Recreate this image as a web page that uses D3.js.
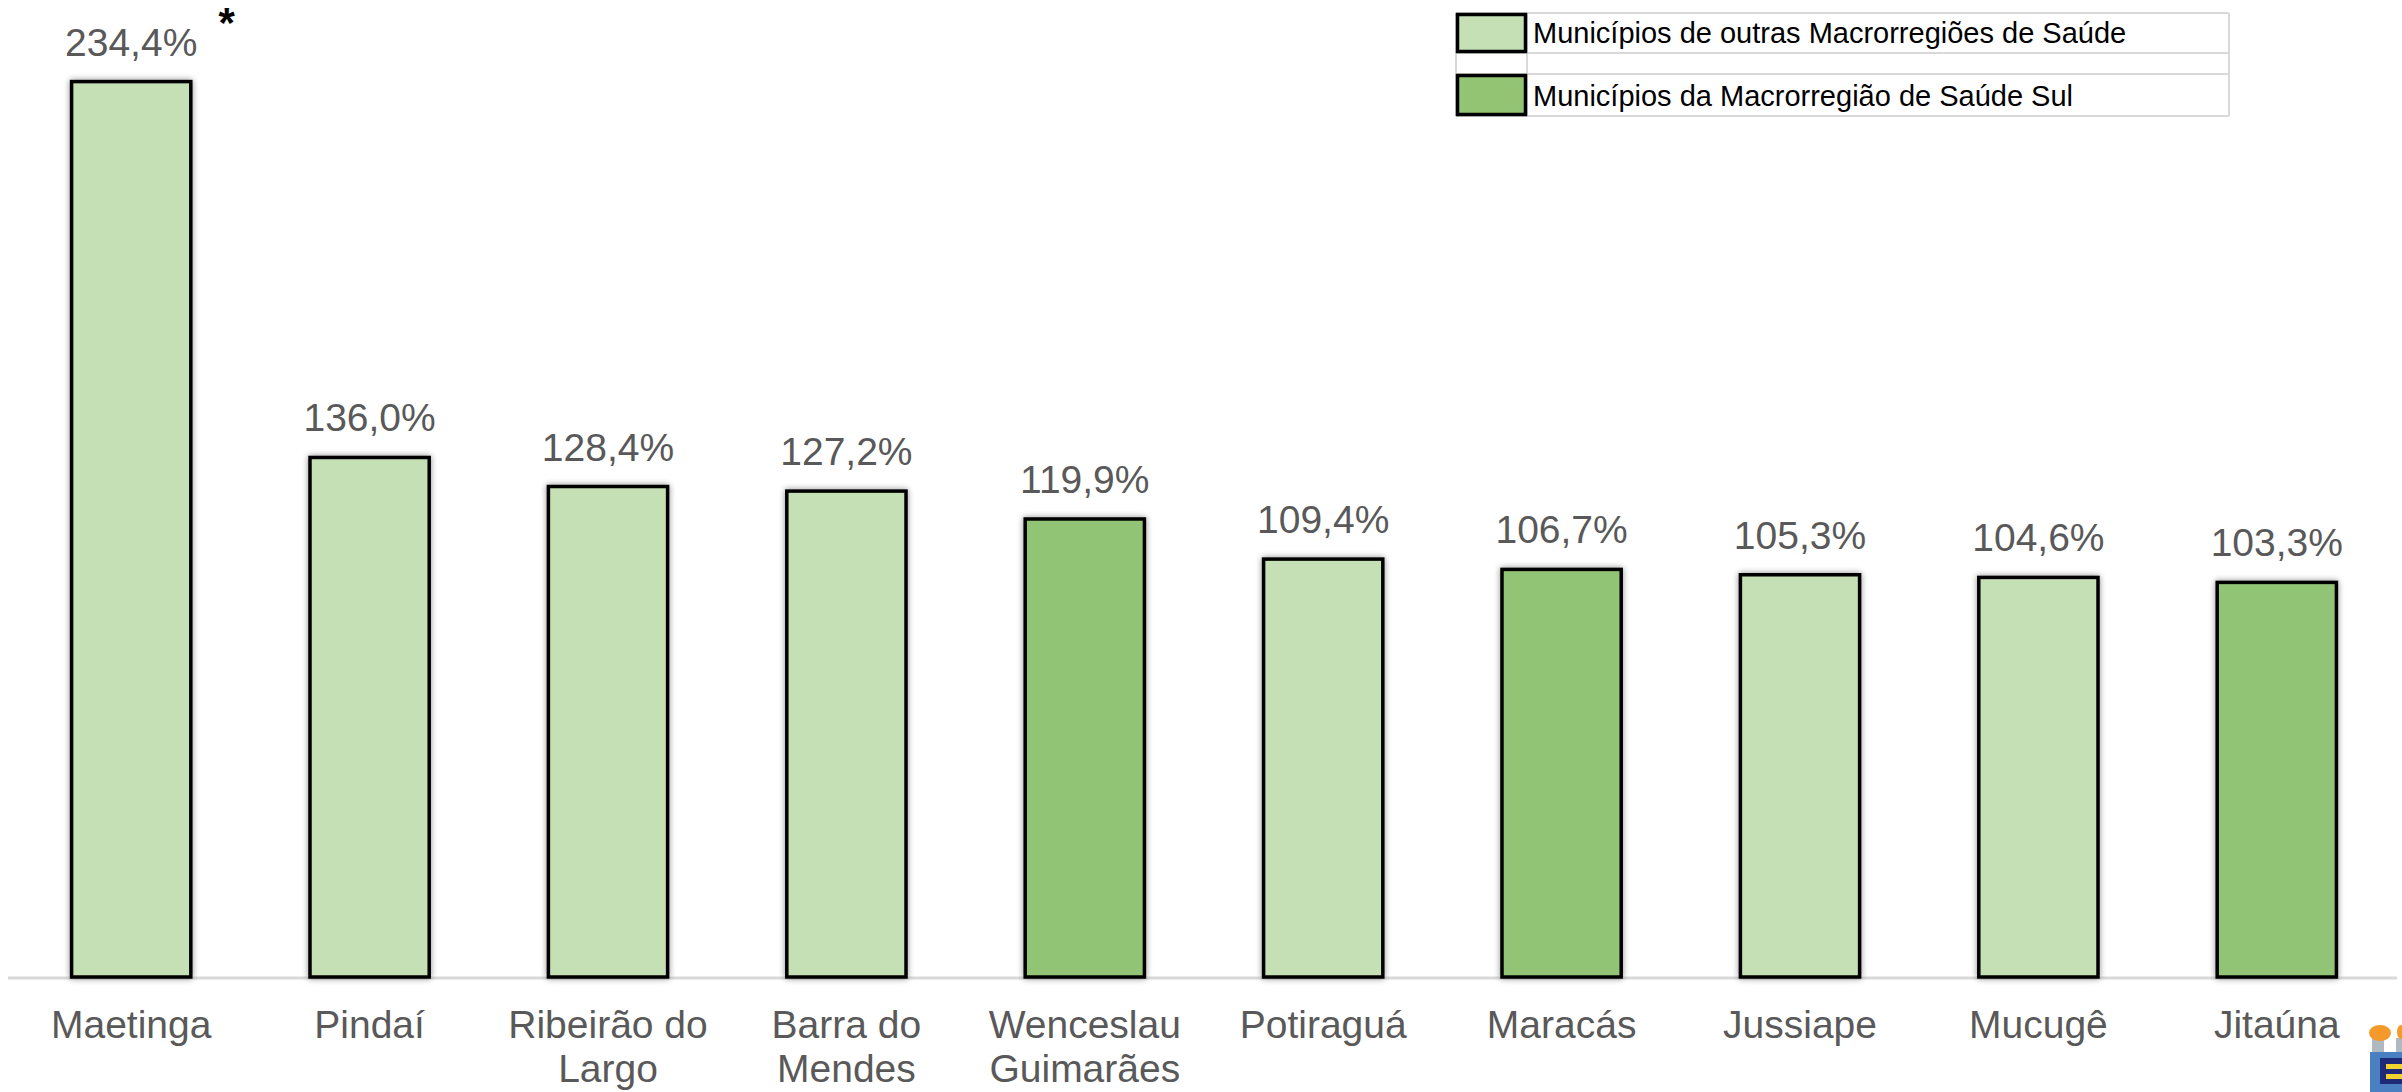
<!DOCTYPE html>
<html>
<head>
<meta charset="utf-8">
<script src="https://cdn.jsdelivr.net/npm/d3@7"></script>
<style>
  html, body { margin: 0; padding: 0; background: #ffffff; }
  svg { display: block; }
  text { font-family: "Liberation Sans", Arial, sans-serif; }
</style>
</head>
<body>
<svg id="chart" width="2402" height="1092"></svg>
<script>
// ---- Data ----
const categories = ["Maetinga", "Pindaí", "Ribeirão do Largo", "Barra do Mendes", "Wenceslau Guimarães",
                    "Potiraguá", "Maracás", "Jussiape", "Mucugê", "Jitaúna"];
const categoryLines = [["Maetinga"], ["Pindaí"], ["Ribeirão do", "Largo"], ["Barra do", "Mendes"],
                       ["Wenceslau", "Guimarães"], ["Potiraguá"], ["Maracás"], ["Jussiape"], ["Mucugê"], ["Jitaúna"]];
const values = [234.4, 136.0, 128.4, 127.2, 119.9, 109.4, 106.7, 105.3, 104.6, 103.3];
const groups = ["outras", "outras", "outras", "outras", "sul", "outras", "sul", "outras", "outras", "sul"];
const seriesNames = ["Municípios de outras Macrorregiões de Saúde", "Municípios da Macrorregião de Saúde Sul"];
const seriesKeys = ["outras", "sul"];
const asteriskNote = "*";

const data = categories.map((c, i) => ({ cat: c, lines: categoryLines[i], value: values[i], group: groups[i] }));

const svg = d3.select("#chart");

const color = d3.scaleOrdinal().domain(seriesKeys).range(["#C5E0B4", "#92C474"]);

const x = d3.scaleBand().domain(categories).range([12, 2396]).paddingInner(0.5).paddingOuter(0.25);
const y = d3.scaleLinear().domain([0, 250]).range([977, 22]);

const locale = d3.formatLocale({ decimal: ",", thousands: ".", grouping: [3], currency: ["", ""] });
const fmt = locale.format(".1f");

// drop shadow filter
const defs = svg.append("defs");
const f = defs.append("filter").attr("id", "shadow").attr("x", "-20%").attr("y", "-20%").attr("width", "140%").attr("height", "140%");
f.append("feGaussianBlur").attr("in", "SourceAlpha").attr("stdDeviation", 3).attr("result", "blur");
f.append("feOffset").attr("in", "blur").attr("dx", 0).attr("dy", 0).attr("result", "off");
f.append("feComponentTransfer").attr("in", "off").attr("result", "sh")
  .append("feFuncA").attr("type", "linear").attr("slope", 0.45);
const fm = f.append("feMerge");
fm.append("feMergeNode").attr("in", "sh");
fm.append("feMergeNode").attr("in", "SourceGraphic");

// baseline
svg.append("line")
  .attr("x1", 8).attr("x2", 2397)
  .attr("y1", y(0) + 1).attr("y2", y(0) + 1)
  .attr("stroke", "#D9D9D9").attr("stroke-width", 3);

// bars
svg.append("g").selectAll("rect").data(data).join("rect")
  .attr("x", d => x(d.cat))
  .attr("y", d => y(d.value))
  .attr("width", x.bandwidth())
  .attr("height", d => y(0) - y(d.value))
  .attr("fill", d => color(d.group))
  .attr("stroke", "#000")
  .attr("stroke-width", 3.5)
  .attr("filter", "url(#shadow)");

// value labels
svg.append("g").selectAll("text").data(data).join("text")
  .attr("x", d => x(d.cat) + x.bandwidth() / 2)
  .attr("y", d => y(d.value) - 26)
  .attr("text-anchor", "middle")
  .attr("font-size", 39)
  .attr("fill", "#595959")
  .text(d => fmt(d.value) + "%");

// asterisk
svg.append("text")
  .attr("x", x(categories[0]) + x.bandwidth() + 36)
  .attr("y", 37)
  .attr("text-anchor", "middle")
  .attr("font-size", 42)
  .attr("font-weight", "bold")
  .attr("fill", "#000")
  .text(asteriskNote);

// x axis labels
const xAxis = d3.axisBottom(x).tickSize(0).tickPadding(0);
const gx = svg.append("g").attr("transform", `translate(0,${y(0)})`).call(xAxis);
gx.select(".domain").remove();
gx.selectAll(".tick text").each(function (c) {
  const i = categories.indexOf(c);
  const t = d3.select(this);
  t.text(null)
    .attr("font-size", 39)
    .attr("fill", "#595959")
    .attr("font-family", "'Liberation Sans', Arial, sans-serif")
    .attr("dy", null)
    .attr("y", 0);
  categoryLines[i].forEach((ln, k) => {
    t.append("tspan").attr("x", 0).attr("y", 61 + k * 44).text(ln);
  });
});

// legend (table-like)
const lg = svg.append("g");
const lx0 = 1456, lx1 = 1527, lx2 = 2229;
const rows = [{ y0: 13, y1: 53 }, { y0: 74, y1: 116 }];
const grid = "#D9D9D9";
[13, 53, 74, 116].forEach(yy => {
  lg.append("line").attr("x1", lx0).attr("x2", lx2).attr("y1", yy).attr("y2", yy)
    .attr("stroke", grid).attr("stroke-width", 2);
});
[lx0, lx1, lx2].forEach(xx => {
  lg.append("line").attr("x1", xx).attr("x2", xx).attr("y1", 13).attr("y2", 116)
    .attr("stroke", grid).attr("stroke-width", 2);
});
seriesKeys.forEach((k, i) => {
  const r = rows[i];
  lg.append("rect")
    .attr("x", lx0 + 1.5).attr("y", r.y0 + 1.5)
    .attr("width", lx1 - lx0 - 3).attr("height", r.y1 - r.y0 - 3)
    .attr("fill", color(k)).attr("stroke", "#000").attr("stroke-width", 3.5);
  lg.append("text")
    .attr("x", lx1 + 6)
    .attr("y", r.y1 - 10)
    .attr("font-size", 29)
    .attr("fill", "#000")
    .text(seriesNames[i]);
});

// small logo fragment at bottom right
const logo = svg.append("g").attr("transform", "translate(2366,1024)");
logo.append("rect").attr("x", 6).attr("y", 14).attr("width", 12).attr("height", 14).attr("fill", "#b0b8c0");
logo.append("ellipse").attr("cx", 14).attr("cy", 9).attr("rx", 11).attr("ry", 8).attr("fill", "#F39A2B");
logo.append("rect").attr("x", 30).attr("y", 14).attr("width", 6).attr("height", 14).attr("fill", "#b0b8c0");
logo.append("ellipse").attr("cx", 35).attr("cy", 8).attr("rx", 4).attr("ry", 7).attr("fill", "#F39A2B");
logo.append("rect").attr("x", 4).attr("y", 28).attr("width", 32).attr("height", 40).attr("fill", "#4A7FC1");
logo.append("rect").attr("x", 14).attr("y", 34).attr("width", 22).attr("height", 26).attr("fill", "#1E2A78");
logo.append("rect").attr("x", 20).attr("y", 40).attr("width", 16).attr("height", 5).attr("fill", "#F2D230");
logo.append("rect").attr("x", 20).attr("y", 50).attr("width", 16).attr("height", 5).attr("fill", "#F2D230");
</script>
</body>
</html>
